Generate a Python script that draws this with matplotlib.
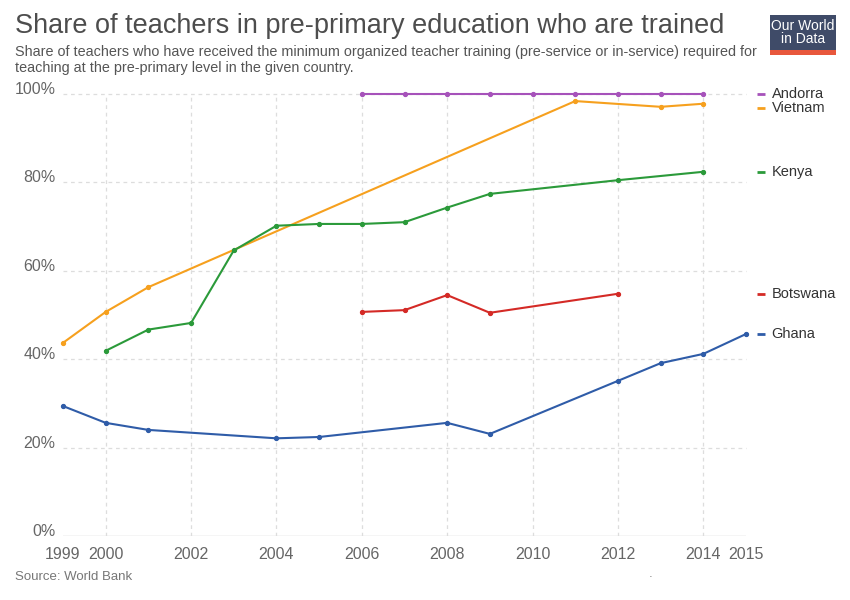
import matplotlib
matplotlib.use("Agg")
import matplotlib.pyplot as plt
import matplotlib.transforms as mtransforms
from matplotlib.patches import Rectangle
from matplotlib.lines import Line2D

plt.rcParams['font.family'] = ['Liberation Sans', 'DejaVu Sans']

# ---- data ----
andorra_years = [2006, 2007, 2008, 2009, 2010, 2011, 2012, 2013, 2014]
andorra_vals = [100, 100, 100, 100, 100, 100, 100, 100, 100]

vietnam_years = [1999, 2000, 2001, 2011, 2013, 2014]
vietnam_vals = [43.7, 50.7, 56.3, 98.4, 97.1, 97.8]

kenya_years = [2000, 2001, 2002, 2003, 2004, 2005, 2006, 2007, 2008, 2009, 2012, 2014]
kenya_vals = [41.9, 46.7, 48.2, 64.6, 70.2, 70.6, 70.6, 71.0, 74.3, 77.4, 80.5, 82.4]

botswana_years = [2006, 2007, 2008, 2009, 2012]
botswana_vals = [50.7, 51.1, 54.5, 50.5, 54.8]

ghana_years = [1999, 2000, 2001, 2004, 2005, 2008, 2009, 2012, 2013, 2014, 2015]
ghana_vals = [29.4, 25.6, 24.0, 22.1, 22.4, 25.6, 23.1, 35.1, 39.1, 41.2, 45.7]

series_names = ["Andorra", "Vietnam", "Kenya", "Botswana", "Ghana"]
series_colors = ["#a652ba", "#f6a01e", "#2b9a3a", "#d42a26", "#2f5ca8"]
series_data = [(andorra_years, andorra_vals), (vietnam_years, vietnam_vals),
               (kenya_years, kenya_vals), (botswana_years, botswana_vals),
               (ghana_years, ghana_vals)]

x_ticks = [1999, 2000, 2002, 2004, 2006, 2008, 2010, 2012, 2014, 2015]
y_ticks = [0, 20, 40, 60, 80, 100]

title = "Share of teachers in pre-primary education who are trained"
subtitle_lines = ["Share of teachers who have received the minimum organized teacher training (pre-service or in-service) required for",
                  "teaching at the pre-primary level in the given country."]
source = "Source: World Bank"

# ---- figure ----
fig = plt.figure(figsize=(8.5, 6), dpi=100)
ax = fig.add_axes([63/850, 1-536/600, (746-63)/850, (536-94)/600])
ax.set_xlim(1999, 2015)
ax.set_ylim(0, 100)
for s in ax.spines.values():
    s.set_visible(False)

grid_col = "#dddddd"
for yv in y_ticks[1:]:
    ax.axhline(yv, color=grid_col, lw=0.9, ls=(0, (3, 3)), zorder=1, clip_on=False)
ax.axhline(0, color="#cccccc", lw=1.0, zorder=1)
for xv in x_ticks:
    if xv in (1999, 2015):
        continue
    ax.axvline(xv, color=grid_col, lw=0.9, ls=(0, (3, 3)), zorder=1)

ax.set_xticks(x_ticks)
ax.set_xticklabels([str(t) for t in x_ticks])
ax.tick_params(axis='x', length=0, pad=8, labelsize=11.5, labelcolor="#666666")
ax.set_yticks([])

trans = mtransforms.blended_transform_factory(ax.transAxes, ax.transData)
for yv in y_ticks:
    ax.text(-0.011, yv, f"{yv}%", transform=trans, ha='right', va='baseline',
            fontsize=11.5, color="#666666")

for (xs, ys), col in zip(series_data, series_colors):
    ax.plot(xs, ys, color=col, lw=1.5, marker='o', markersize=2.8, zorder=3, clip_on=False)

# end labels with simple collision avoidance
last_vals = [ys[-1] for _, ys in series_data]
order = sorted(range(len(last_vals)), key=lambda i: -last_vals[i])
label_pos = {}
prev = None
min_gap = 3.2
for i in order:
    y = last_vals[i]
    if prev is not None and prev - y < min_gap:
        y = prev - min_gap
    label_pos[i] = y
    prev = y
for i, name in enumerate(series_names):
    ax.add_line(Line2D([1.0165, 1.0285], [label_pos[i], label_pos[i]], transform=trans,
                       color=series_colors[i], lw=2.0, clip_on=False, solid_capstyle='butt'))
    ax.text(1.0375, label_pos[i], name, transform=trans, ha='left', va='center',
            fontsize=10.5, color="#333333")

# titles
fig.text(15/850, 1-26/600, title, ha='left', va='center', fontsize=19.5, color="#4d4d4d")
for k, line in enumerate(subtitle_lines):
    fig.text(15/850, 1-(52 + 16*k)/600, line, ha='left', va='center', fontsize=10.4,
             color="#555555")
fig.text(15/850, 1-577/600, source, ha='left', va='center', fontsize=9.5, color="#777777")
fig.text(651/850, 1-577/600, "\u00b7", ha='center', va='center', fontsize=8, color="#555555")

# logo
fig.patches.append(Rectangle((770/850, 1-55/600), 66/850, 40/600, transform=fig.transFigure,
                             facecolor="#3f4b68", edgecolor='none'))
fig.patches.append(Rectangle((770/850, 1-55/600), 66/850, 5/600, transform=fig.transFigure,
                             facecolor="#e8573c", edgecolor='none'))
fig.text(803/850, 1-26/600, "Our World", ha='center', va='center', fontsize=10,
         color="white")
fig.text(803/850, 1-39/600, "in Data", ha='center', va='center', fontsize=10,
         color="white")

fig.savefig("out.png", dpi=100)
